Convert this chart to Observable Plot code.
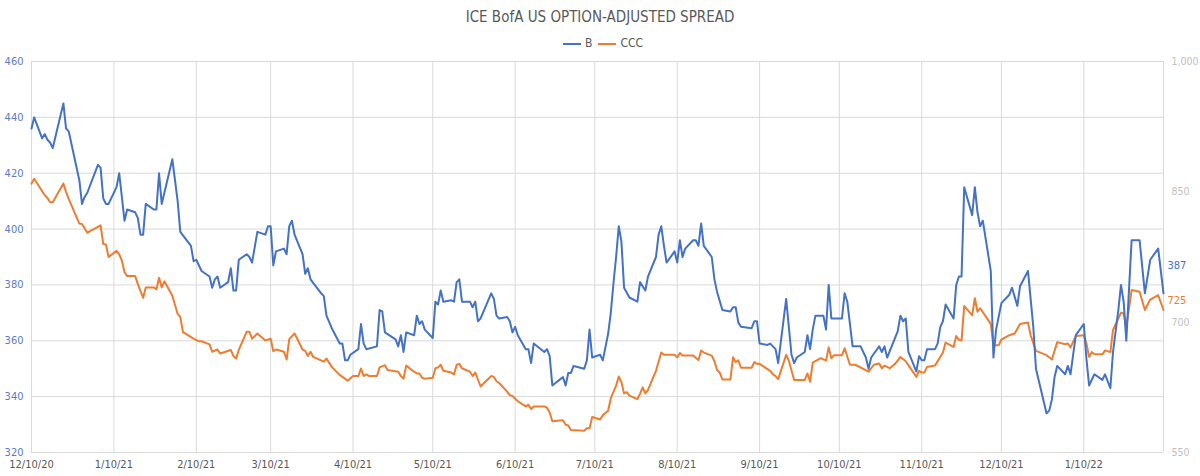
<!DOCTYPE html>
<html>
<head>
<meta charset="utf-8">
<script src="https://cdn.jsdelivr.net/npm/d3@7"></script>
<script src="https://cdn.jsdelivr.net/npm/@observablehq/plot@0.6"></script>
<style>
  body { margin: 0; background: #fff; font-family: "Liberation Sans Narrow", "DejaVu Sans Condensed", Roboto, sans-serif; }
  #title { height: 34px; line-height: 34px; text-align: center; font-size: 15px; color: #595959; }
  #legend { height: 18px; line-height: 18px; text-align: center; font-size: 12px; color: #595959; }
  #legend .sw { display: inline-block; width: 18px; height: 2px; vertical-align: middle; margin: 0 4px 0 6px; }
  #chart svg { display: block; }
</style>
</head>
<body>
<div id="title">ICE BofA US OPTION-ADJUSTED SPREAD</div>
<div id="legend"></div>
<div id="chart"></div>
<script>
const seriesNames = ["B", "CCC"];
const seriesColors = ["#4472C4", "#ED7D31"];

const bDates = ["2020-12-10","2020-12-11","2020-12-14","2020-12-15","2020-12-16","2020-12-17","2020-12-18","2020-12-22","2020-12-23","2020-12-24","2020-12-28","2020-12-29","2020-12-30","2020-12-31",
"2021-01-04","2021-01-05","2021-01-06","2021-01-07","2021-01-08","2021-01-11","2021-01-12","2021-01-14","2021-01-15","2021-01-18","2021-01-19","2021-01-20","2021-01-21","2021-01-22","2021-01-25","2021-01-26","2021-01-27","2021-01-28",
"2021-02-01","2021-02-03","2021-02-04","2021-02-08","2021-02-09","2021-02-10","2021-02-12","2021-02-15","2021-02-16","2021-02-17","2021-02-18","2021-02-19","2021-02-22","2021-02-23","2021-02-24","2021-02-25","2021-02-26",
"2021-03-01","2021-03-02","2021-03-03","2021-03-05","2021-03-08","2021-03-09","2021-03-10","2021-03-11","2021-03-12","2021-03-15","2021-03-16","2021-03-17","2021-03-18","2021-03-19","2021-03-22","2021-03-23","2021-03-24","2021-03-25","2021-03-29","2021-03-30","2021-03-31",
"2021-04-02","2021-04-05","2021-04-06","2021-04-07","2021-04-08","2021-04-09","2021-04-12","2021-04-13","2021-04-14","2021-04-15","2021-04-19","2021-04-20","2021-04-21","2021-04-22","2021-04-26","2021-04-27","2021-04-28","2021-04-29","2021-04-30",
"2021-05-03","2021-05-04","2021-05-05","2021-05-06","2021-05-07","2021-05-10","2021-05-11","2021-05-12","2021-05-13","2021-05-14","2021-05-17","2021-05-18","2021-05-19","2021-05-20","2021-05-21","2021-05-24","2021-05-25","2021-05-26","2021-05-27","2021-05-28",
"2021-06-01","2021-06-02","2021-06-03","2021-06-04","2021-06-07","2021-06-08","2021-06-09","2021-06-10","2021-06-11","2021-06-14","2021-06-15","2021-06-16","2021-06-17","2021-06-21","2021-06-22","2021-06-23","2021-06-24","2021-06-28","2021-06-29","2021-06-30",
"2021-07-01","2021-07-02","2021-07-06","2021-07-07","2021-07-08","2021-07-09","2021-07-12","2021-07-13","2021-07-15","2021-07-16","2021-07-17","2021-07-18","2021-07-19","2021-07-20","2021-07-21","2021-07-23","2021-07-26","2021-07-27","2021-07-29","2021-07-30",
"2021-08-02","2021-08-03","2021-08-04","2021-08-05","2021-08-06","2021-08-09","2021-08-10","2021-08-11","2021-08-12","2021-08-13","2021-08-16","2021-08-17","2021-08-18","2021-08-19","2021-08-20","2021-08-23","2021-08-24","2021-08-25","2021-08-27","2021-08-30","2021-08-31",
"2021-09-01","2021-09-02","2021-09-03","2021-09-07","2021-09-08","2021-09-09","2021-09-10","2021-09-13","2021-09-14","2021-09-15","2021-09-16","2021-09-17","2021-09-20","2021-09-22","2021-09-23","2021-09-24","2021-09-27","2021-09-28","2021-09-29","2021-09-30",
"2021-10-01","2021-10-04","2021-10-05","2021-10-06","2021-10-07","2021-10-11","2021-10-12","2021-10-13","2021-10-15","2021-10-18","2021-10-20","2021-10-21","2021-10-22","2021-10-25","2021-10-26","2021-10-27","2021-10-28",
"2021-11-01","2021-11-02","2021-11-03","2021-11-04","2021-11-05","2021-11-08","2021-11-09","2021-11-10","2021-11-11","2021-11-12","2021-11-15","2021-11-16","2021-11-17","2021-11-18","2021-11-19","2021-11-22","2021-11-23","2021-11-24","2021-11-25","2021-11-26","2021-11-29","2021-11-30",
"2021-12-01","2021-12-02","2021-12-03","2021-12-06","2021-12-07","2021-12-08","2021-12-10","2021-12-13","2021-12-14","2021-12-16","2021-12-17","2021-12-20","2021-12-22","2021-12-23","2021-12-27","2021-12-28","2021-12-29","2021-12-30","2021-12-31",
"2022-01-03","2022-01-04","2022-01-05","2022-01-07","2022-01-10","2022-01-11","2022-01-12","2022-01-14","2022-01-17","2022-01-18","2022-01-20","2022-01-21","2022-01-23","2022-01-24","2022-01-25","2022-01-26","2022-01-28","2022-01-31",
"2022-02-02","2022-02-04","2022-02-07","2022-02-09"];
const bValues = [436,440,432.5,434,432,431,429,445,436,435,417.5,409,411.5,413,
423,422,411,409,409,415,420,403,407,406,404,398,398,409,407,407,420,409,
425,410,399,394,388.5,389,385,383,379,382,383,379,381,386,378,378,389,
391,390,388,399,398,401,401,387,392,393,391,401,403,398,391,384,386,382,377,376,369,
364.5,359,359,353,353,355,357,366,359,357,358,371,370.5,363,360.5,358,362,356,363,
362,369,366,367,364,361,374,373,378,374,374.5,374,381,382,374,374,372,374,367,368,
377,375,369,368,368.5,367,363,365,362,357,357,352,359,356,357,354.5,344,347,344,348.5,
348.5,351,350,353,364,354,355,353,362.5,370,380.5,390,401,395.5,379,375.5,374,381,378,383,
390,398,401,394,388,392,388,396,390,393,396,396,394,402,394,390,382,377.5,371,370.5,372,
372,366.5,365,364.5,367,367,359,358.5,359,358,357,352,375,355,352,354,356,362,357,364,
369,369,364,380,368,368,377,374,358,358,354,350,354,358,356,358,354,
363.5,369,367,368,356,349,354.5,353,353,357,357,359,365,367,373,368,380,383,383,415,405,415,
406,401,403,385,354,364,373.5,376.5,379,372.5,379.5,385,365,350,334,335,339,347,351,
348,351,348,362,366,353.5,344,348,346,348,343,356,371,380,374,360,396,396,
377,389,393,377];

const cccDates = ["2020-12-10","2020-12-11","2020-12-15","2020-12-16","2020-12-17","2020-12-18","2020-12-22","2020-12-23","2020-12-24","2020-12-28","2020-12-29","2020-12-31",
"2021-01-05","2021-01-06","2021-01-07","2021-01-08","2021-01-11","2021-01-12","2021-01-13","2021-01-14","2021-01-15","2021-01-18","2021-01-19","2021-01-21","2021-01-22","2021-01-25","2021-01-26","2021-01-27","2021-01-28","2021-01-29",
"2021-02-01","2021-02-03","2021-02-04","2021-02-05","2021-02-09","2021-02-11","2021-02-12","2021-02-15","2021-02-16","2021-02-18","2021-02-19","2021-02-23","2021-02-24","2021-02-25","2021-02-26",
"2021-03-01","2021-03-02","2021-03-03","2021-03-05","2021-03-08","2021-03-10","2021-03-11","2021-03-12","2021-03-15","2021-03-16","2021-03-17","2021-03-19","2021-03-20","2021-03-22","2021-03-23","2021-03-24","2021-03-25","2021-03-26","2021-03-30","2021-03-31",
"2021-04-02","2021-04-05","2021-04-07","2021-04-08","2021-04-10","2021-04-12","2021-04-13","2021-04-14","2021-04-15","2021-04-16","2021-04-19","2021-04-20","2021-04-22","2021-04-23","2021-04-27","2021-04-28","2021-04-29","2021-04-30",
"2021-05-03","2021-05-04","2021-05-05","2021-05-06","2021-05-07","2021-05-10","2021-05-11","2021-05-12","2021-05-13","2021-05-14","2021-05-17","2021-05-18","2021-05-19","2021-05-20","2021-05-21","2021-05-24","2021-05-25","2021-05-26","2021-05-27","2021-05-28",
"2021-06-01","2021-06-02","2021-06-03","2021-06-04","2021-06-07","2021-06-08","2021-06-09","2021-06-11","2021-06-14","2021-06-15","2021-06-16","2021-06-17","2021-06-21","2021-06-22","2021-06-23","2021-06-24","2021-06-28","2021-06-29","2021-06-30",
"2021-07-01","2021-07-06","2021-07-07","2021-07-08","2021-07-09","2021-07-12","2021-07-13","2021-07-15","2021-07-16","2021-07-18","2021-07-19","2021-07-20","2021-07-21","2021-07-22","2021-07-23","2021-07-26","2021-07-27","2021-07-28","2021-07-29","2021-07-30",
"2021-08-02","2021-08-04","2021-08-05","2021-08-06","2021-08-09","2021-08-10","2021-08-11","2021-08-12","2021-08-16","2021-08-18","2021-08-19","2021-08-20","2021-08-23","2021-08-24","2021-08-25","2021-08-26","2021-08-27","2021-08-30","2021-08-31",
"2021-09-01","2021-09-02","2021-09-03","2021-09-07","2021-09-08","2021-09-09","2021-09-10","2021-09-13","2021-09-14","2021-09-15","2021-09-16","2021-09-17","2021-09-20","2021-09-21","2021-09-23","2021-09-27","2021-09-28","2021-09-29","2021-09-30",
"2021-10-03","2021-10-05","2021-10-06","2021-10-07","2021-10-08","2021-10-11","2021-10-12","2021-10-14","2021-10-16","2021-10-21","2021-10-23","2021-10-25","2021-10-26","2021-10-27","2021-10-29","2021-10-31",
"2021-11-02","2021-11-04","2021-11-06","2021-11-08","2021-11-09","2021-11-10","2021-11-11","2021-11-12","2021-11-15","2021-11-18","2021-11-19","2021-11-22","2021-11-23","2021-11-24","2021-11-25","2021-11-26","2021-11-29","2021-11-30",
"2021-12-01","2021-12-02","2021-12-06","2021-12-07","2021-12-09","2021-12-10","2021-12-13","2021-12-15","2021-12-17","2021-12-20","2021-12-21","2021-12-23","2021-12-27","2021-12-29","2021-12-31",
"2022-01-03","2022-01-04","2022-01-05","2022-01-07","2022-01-10","2022-01-11","2022-01-12","2022-01-13","2022-01-14","2022-01-17","2022-01-18","2022-01-20","2022-01-21","2022-01-24","2022-01-25","2022-01-26","2022-01-28","2022-01-31",
"2022-02-02","2022-02-04","2022-02-07","2022-02-09"];
const cccValues = [859.5,865,846,843,838,838,859.5,850,842,813.5,813,803,
811.5,790,789.5,775,782,778,771,757.5,753,753,744,728,740,740,738,751,740,747,
730.5,709.5,706,688.5,681,678,678,674.5,666,668.5,664,668,661,658,668,
689,689,681,687,679,681,666.5,668.5,666,657,680.5,687,681,668.5,667,661,666,660,654.5,658,
648.5,639,635,632.5,638,638,646.5,638,640,638,638,648,650.5,645,643,638,635,650,
643,641,641,636,635,636,647,648,651,644,642,640,651,652,647,643,638,642,634,626,
638,637,632,630,620,616,615,609,603,605,600,603,603,601.5,596,586,587,582,581,
576,575,578,578,591,588,593,598,612.5,627,637.5,631,618,619.5,615.5,611.5,617.5,625,618,622,
644,665,662.5,662.5,662.5,659.5,664.5,661.5,661.5,656.5,667.5,665,661.5,655,645,642,634,634,659.5,
654,656,647.5,647.5,654,652,652,646,644,640,638,634.5,662.5,655.5,633.5,633.5,641,631.5,653.5,
658.5,656,671,658.5,662,662,670,651,651,643,651,652.5,647,650,647,652,
660,655,646,637,644,642,642,648.5,650,665,676.5,671.5,684,679.5,679,718.5,708,727.5,
712,716,698,673.5,673.5,680,685,687,698,699.5,685,667,662,657,677,
674.5,675.5,671,684,685,675.5,660,665.5,663,663,667.5,665.5,691,711,710,694,737,735,
714,726,731,714];

const leftTicks = [320, 340, 360, 380, 400, 420, 440, 460];
const rightTicks = [550, 700, 850, 1000];
const monthTicks = ["2020-12-10","2021-01-10","2021-02-10","2021-03-10","2021-04-10","2021-05-10","2021-06-10","2021-07-10","2021-08-10","2021-09-10","2021-10-10","2021-11-10","2021-12-10","2022-01-10"];
const endLabels = ["387", "725"];
const endLabelValues = [387, 725];

const leftDomain = [320, 460];
const rightDomain = [550, 1000];
const toLeft = v => leftDomain[0] + (v - rightDomain[0]) / (rightDomain[1] - rightDomain[0]) * (leftDomain[1] - leftDomain[0]);
const toRight = v => rightDomain[0] + (v - leftDomain[0]) / (leftDomain[1] - leftDomain[0]) * (rightDomain[1] - rightDomain[0]);

const parse = d3.utcParse("%Y-%m-%d");
const bData = bDates.map((d, i) => ({date: parse(d), value: bValues[i]}));
const cccData = cccDates.map((d, i) => ({date: parse(d), value: cccValues[i]}));
const tickDates = monthTicks.map(parse);
const xDomain = [bData[0].date, bData[bData.length - 1].date];
const lastDate = xDomain[1];
const labelData = [
  {date: lastDate, y: endLabelValues[0], text: endLabels[0], color: seriesColors[0]},
  {date: lastDate, y: toLeft(endLabelValues[1]), text: endLabels[1], color: seriesColors[1]}
];

// legend
const legend = document.getElementById("legend");
seriesNames.forEach((n, i) => {
  const sw = document.createElement("span");
  sw.className = "sw";
  sw.style.background = seriesColors[i];
  legend.appendChild(sw);
  legend.appendChild(document.createTextNode(n));
});

const fmtDate = d3.utcFormat("%-m/%-d/%y");
const chart = Plot.plot({
  width: 1200,
  height: 424,
  marginTop: 9,
  marginBottom: 24,
  marginLeft: 31,
  marginRight: 37,
  style: {fontFamily: '"Liberation Sans Narrow", "DejaVu Sans Condensed", Roboto, sans-serif', fontSize: "11px", background: "#fff"},
  x: {type: "utc", domain: xDomain},
  y: {domain: leftDomain},
  marks: [
    Plot.ruleY(leftTicks, {stroke: "#d9d9d9", strokeWidth: 1}),
    Plot.ruleX(tickDates.concat([lastDate]), {stroke: "#d9d9d9", strokeWidth: 1}),
    Plot.axisY(leftTicks, {anchor: "left", tickSize: 0, tickPadding: 8, fill: "#5b7bc7", tickFormat: d => d}),
    Plot.axisY(rightTicks.map(toLeft), {anchor: "right", tickSize: 0, tickPadding: 8, fill: "#bfbfbf", fontSize: 10.5, tickFormat: d => d3.format(",")(Math.round(toRight(d)))}),
    Plot.axisX(tickDates, {tickSize: 0, tickPadding: 8, fill: "#595959", tickFormat: fmtDate}),
    Plot.line(cccData, {x: "date", y: d => toLeft(d.value), stroke: seriesColors[1], strokeWidth: 2}),
    Plot.line(bData, {x: "date", y: "value", stroke: seriesColors[0], strokeWidth: 2}),
    Plot.text(labelData, {x: "date", y: "y", text: "text", fill: "color", textAnchor: "start", dx: 4, fontSize: 11})
  ]
});
document.getElementById("chart").appendChild(chart);
</script>
</body>
</html>
